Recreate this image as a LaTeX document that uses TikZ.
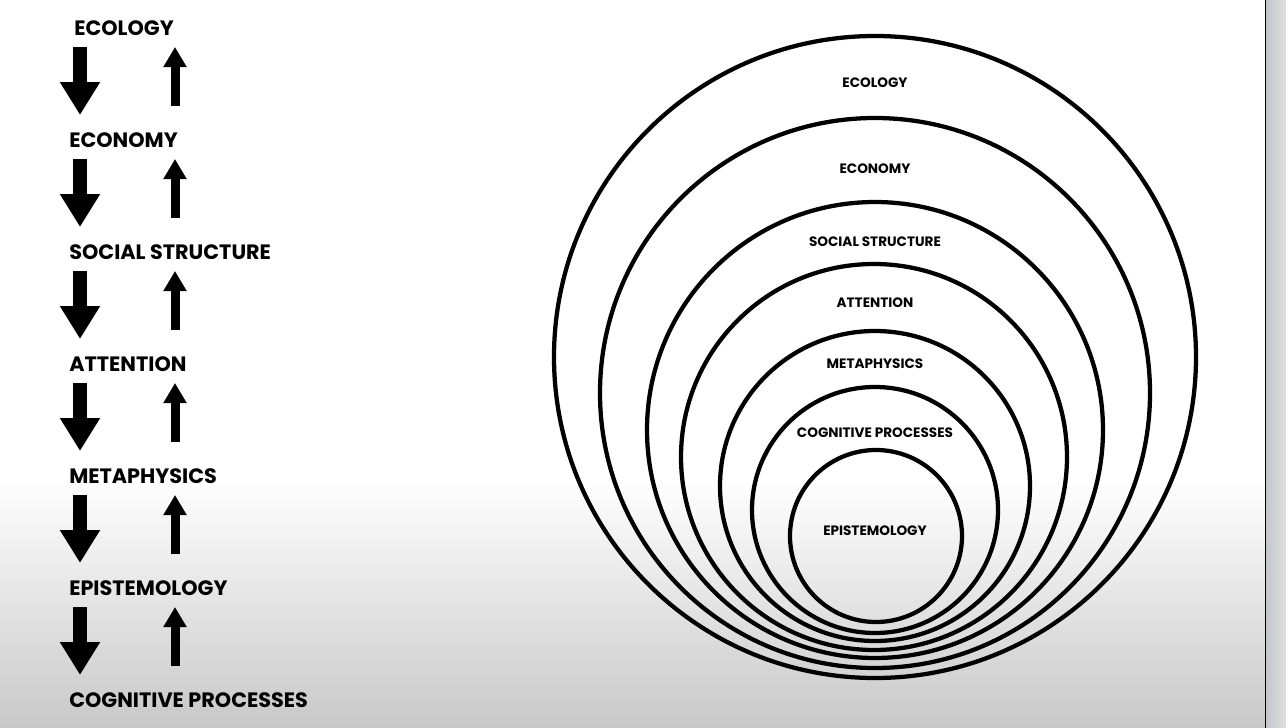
\documentclass[tikz,border=0pt]{standalone}
\usepackage{fontspec}
\setmainfont{Poppins}
\usetikzlibrary{arrows.meta}
\definecolor{bgbottom}{RGB}{200,200,200}
\definecolor{stripA}{RGB}{196,197,201}
\definecolor{stripB}{RGB}{222,222,224}
\begin{document}
\begin{tikzpicture}[x=0.75pt,y=-0.75pt,
  biglbl/.style={font=\bfseries\fontsize{15.6}{18}\selectfont, inner sep=0pt, anchor=west},
  ringlbl/.style={font=\bfseries\fontsize{10.2}{12}\selectfont, inner sep=0pt},
  ring/.style={line width=3.2pt, draw=black},
  downarr/.style={line width=10.5pt, -{Triangle[length=24.75pt,width=28.5pt]}},
  uparr/.style={line width=6.75pt, -{Triangle[length=15pt,width=16.5pt]}}]
\useasboundingbox (0,0) rectangle (1286,728);
% background
\fill[white] (0,0) rectangle (1265,728);
\shade[top color=white, bottom color=bgbottom] (0,480) rectangle (1265,728);
\shade[left color=stripA, right color=stripB] (1265,0) rectangle (1286,728);
\draw[line width=0.9pt] (1265.5,0) -- (1265.5,728);
% left column
\node[biglbl] (l0) at (74,28) {ECOLOGY};
\node[biglbl] (l1) at (69,140) {ECONOMY};
\node[biglbl] (l2) at (69,252) {SOCIAL STRUCTURE};
\node[biglbl] (l3) at (69,364) {ATTENTION};
\node[biglbl] (l4) at (69,476) {METAPHYSICS};
\node[biglbl] (l5) at (69,588) {EPISTEMOLOGY};
\node[biglbl] (l6) at (69,700) {COGNITIVE PROCESSES};
\foreach \k in {0,...,5}{
  \coordinate (ds\k) at (80,47+112*\k);
  \coordinate (de\k) at (80,115+112*\k);
  \coordinate (us\k) at (175,106+112*\k);
  \coordinate (ue\k) at (175,47+112*\k);
  \draw[downarr] (ds\k) -- (de\k);
  \draw[uparr] (us\k) -- (ue\k);
}
% rings
\draw[ring] (875,357) circle[radius=321*0.75pt];
\draw[ring] (875,393) circle[radius=275*0.75pt];
\draw[ring] (875,430) circle[radius=228*0.75pt];
\draw[ring] (874,457) circle[radius=193*0.75pt];
\draw[ring] (875,486) circle[radius=155*0.75pt];
\draw[ring] (875,510) circle[radius=123*0.75pt];
\draw[ring] (876,536) circle[radius=86*0.75pt];
\node[ringlbl] (r0) at (875,83) {ECOLOGY};
\node[ringlbl] (r1) at (875,169) {ECONOMY};
\node[ringlbl] (r2) at (875,242) {SOCIAL STRUCTURE};
\node[ringlbl] (r3) at (875,303) {ATTENTION};
\node[ringlbl] (r4) at (875,364) {METAPHYSICS};
\node[ringlbl] (r5) at (875,433) {COGNITIVE PROCESSES};
\node[ringlbl] (r6) at (875,531) {EPISTEMOLOGY};
\end{tikzpicture}
\end{document}
